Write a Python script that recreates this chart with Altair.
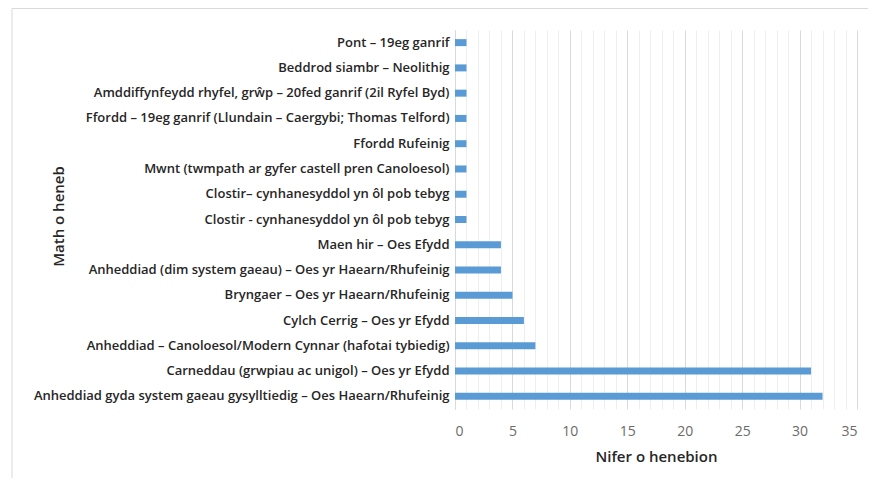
import altair as alt
import pandas as pd

categories = [
    "Pont – 19eg ganrif",
    "Beddrod siambr – Neolithig",
    "Amddiffynfeydd rhyfel, grŵp – 20fed ganrif (2il Ryfel Byd)",
    "Ffordd – 19eg ganrif (Llundain – Caergybi; Thomas Telford)",
    "Ffordd Rufeinig",
    "Mwnt (twmpath ar gyfer castell pren Canoloesol)",
    "Clostir– cynhanesyddol yn ôl pob tebyg",
    "Clostir - cynhanesyddol yn ôl pob tebyg",
    "Maen hir – Oes Efydd",
    "Anheddiad (dim system gaeau) – Oes yr Haearn/Rhufeinig",
    "Bryngaer – Oes yr Haearn/Rhufeinig",
    "Cylch Cerrig – Oes yr Efydd",
    "Anheddiad – Canoloesol/Modern Cynnar (hafotai tybiedig)",
    "Carneddau (grwpiau ac unigol) – Oes yr Efydd",
    "Anheddiad gyda system gaeau gysylltiedig – Oes Haearn/Rhufeinig",
]
values = [1, 1, 1, 1, 1, 1, 1, 1, 4, 4, 5, 6, 7, 31, 32]
x_ticks = list(range(0, 36))

df = pd.DataFrame({"cat": categories, "n": values})

W, H = 402, 379
FONT = "Open Sans"

bars = alt.Chart(df).mark_bar(size=7, color="#5b9bd5").encode(
    x=alt.X(
        "n:Q",
        scale=alt.Scale(domain=[0, 35], nice=False, zero=True),
        axis=alt.Axis(
            title="Nifer o henebion",
            values=x_ticks,
            labelExpr="datum.value % 5 === 0 ? datum.label : ''",
            grid=True,
            gridColor={"condition": {"test": "datum.value % 5 === 0", "value": "#d9d9d9"}, "value": "#eeeeee"},
            gridWidth=1,
            domain=False,
            ticks=False,
            labelPadding=15,
            labelFontSize=14,
            labelColor="#6b6b6b",
            labelFont=FONT,
            titleFont=FONT,
            titleFontSize=15,
            titleFontWeight=600,
            titleColor="#262626",
            titleY=47,
            titleBaseline="middle",
        ),
    ),
    y=alt.Y(
        "cat:N",
        sort=categories,
        axis=alt.Axis(
            title="Math o heneb",
            domain=True,
            domainColor="#d9d9d9",
            ticks=False,
            grid=False,
            labelPadding=6,
            labelFontSize=13,
            labelFontWeight=600,
            labelColor="#262626",
            labelFont=FONT,
            labelLimit=500,
            titleFont=FONT,
            titleFontSize=15,
            titleFontWeight=600,
            titleColor="#262626",
            titleX=-397,
            titleY=186,
            titleAngle=-90,
            titleAlign="center",
            titleBaseline="middle",
        ),
    ),
)

frame = alt.Chart(pd.DataFrame({"a": [0]})).mark_rect(
    fill=None, stroke="#d9d9d9", strokeWidth=1
).encode(
    x=alt.value(-443), x2=alt.value(W + 40), y=alt.value(-21.5), y2=alt.value(H + 120)
)

chart = alt.layer(frame, bars).properties(
    width=W,
    height=H,
    autosize=alt.AutoSizeParams(type="none"),
    padding={"left": 447, "top": 22, "right": 11, "bottom": 69},
).configure_view(stroke=None)

chart.save("out.html", embed_options={"renderer": "svg", "actions": False})
